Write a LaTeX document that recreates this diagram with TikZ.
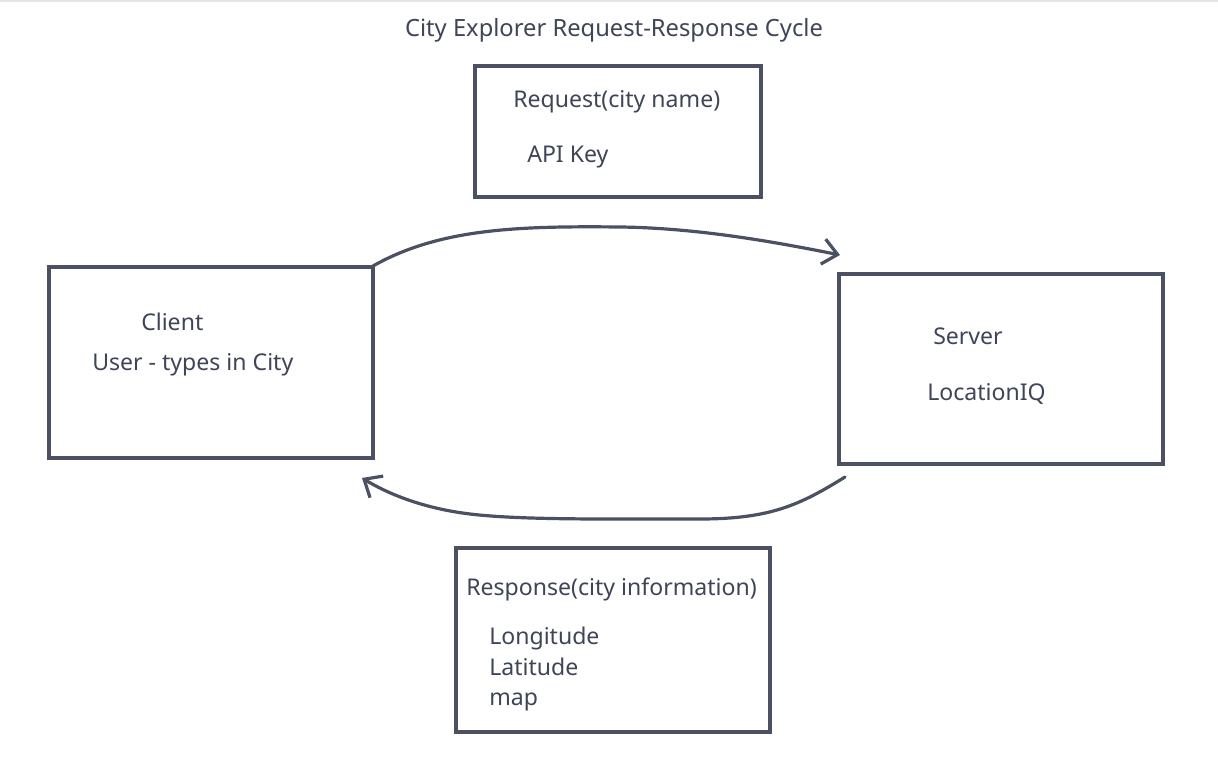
\documentclass[tikz,border=0pt]{standalone}
\usepackage{fontspec}
\setmainfont{Noto Sans}
\usetikzlibrary{arrows.meta}
\definecolor{ink}{HTML}{4B5163}
\definecolor{txt}{HTML}{3F4558}
\tikzset{
  box/.style={draw=ink, line width=2.4pt, line join=miter},
  lbl/.style={anchor=base west, inner sep=0pt, text=txt, font=\fontsize{17.3pt}{20pt}\selectfont},
  ttl/.style={anchor=base, inner sep=0pt, text=txt, font=\fontsize{17.8pt}{20pt}\selectfont},
  flow/.style={draw=ink, line width=2.4pt, line cap=round, -{Straight Barb[length=11pt,width=19pt,line width=2.4pt]}}
}
\begin{document}
\begin{tikzpicture}[x=0.75pt,y=-0.75pt]
\useasboundingbox (0,0) rectangle (1218,780);
\fill[white] (0,0) rectangle (1218,780);
\draw[black!10, line width=1.2pt] (0,0.8) -- (1218,0.8);
% title
\node[ttl] (title) at (614,37) {City Explorer Request-Response Cycle};
% boxes
\draw[box] (475,66) rectangle (761,197);
\draw[box] (49,267) rectangle (373,458);
\draw[box] (839,274) rectangle (1163,464);
\draw[box] (456,548) rectangle (770,732);
\coordinate (client) at (373,266);
\coordinate (servertop) at (840,255);
\coordinate (serverbot) at (845,477);
\coordinate (clientbot) at (362,478);
% texts
\node[lbl] (req) at (513,108) {Request(city name)};
\node[lbl] (key) at (527,163) {API Key};
\node[lbl] (cl) at (141,331) {Client};
\node[lbl] (usr) at (92,371) {User - types in City};
\node[lbl] (srv) at (933,345) {Server};
\node[lbl] (liq) at (927,401) {LocationIQ};
\node[lbl] (resp) at (466,595) {Response(city information)};
\node[lbl] (lon) at (489,644) {Longitude};
\node[lbl] (lat) at (489,675) {Latitude};
\node[lbl] (map) at (489,705) {map};
% connectors
\draw[flow] (client) .. controls (440,228) and (520,226) .. (620,227)
  .. controls (700,228) and (780,243) .. (servertop);
\draw[flow] (serverbot) .. controls (800,505) and (770,519) .. (700,519)
  .. controls (600,519) and (520,520) .. (470,514)
  .. controls (420,508) and (385,492) .. (clientbot);
\end{tikzpicture}
\end{document}
